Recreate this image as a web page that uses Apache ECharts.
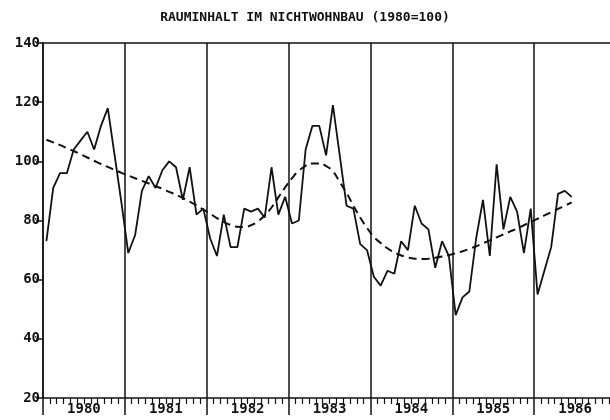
<!DOCTYPE html>
<html>
<head>
<meta charset="utf-8">
<script src="https://cdn.jsdelivr.net/npm/echarts@6/dist/echarts.min.js"></script>
<style>
html, body { margin: 0; padding: 0; background: #fff; }
#main { width: 610px; height: 420px; }
</style>
</head>
<body>
<div id="main"></div>
<script>
// Jahre (Achsenbeschriftung), erster Monat = Jan 1980
var years = ['1980', '1981', '1982', '1983', '1984', '1985', '1986'];

// Rauminhalt im Nichtwohnbau, Monatswerte Jan 1980 - Jun 1986 (1980=100)
var rauminhalt = [
  73, 91, 96, 96, 104, 107, 110, 104, 112, 118, 102, 86,   // 1980
  69, 75, 90, 95, 91, 97, 100, 98, 87, 98, 82, 84,         // 1981
  74, 68, 82, 71, 71, 84, 83, 84, 81, 98, 82, 88,          // 1982
  79, 80, 104, 112, 112, 102, 119, 102, 85, 84, 72, 70,    // 1983
  61, 58, 63, 62, 73, 70, 85, 79, 77, 64, 73, 68,          // 1984
  48, 54, 56, 74, 87, 68, 99, 77, 88, 83, 69, 84,          // 1985
  55, 63, 71, 89, 90, 88                                   // 1986
];

// Trendkurve (gestrichelt)
var trend = [
  107.3, 106.4, 105.5, 104.5, 103.5, 102.4, 101.3, 100.2, 99.1, 98.1, 97.1, 96.1,
  95.2, 94.3, 93.4, 92.5, 91.6, 90.7, 89.7, 88.7, 87.6, 86.4, 85.1, 83.7,
  82.3, 80.8, 79.5, 78.5, 77.9, 77.8, 78.4, 79.7, 81.7, 84.4, 87.8, 91.2,
  94.3, 96.8, 98.5, 99.3, 99.3, 98.4, 96.6, 93.0, 89.3, 85.0, 81.0, 77.5,
  74.5, 72.4, 70.6, 69.2, 68.2, 67.5, 67.1, 67.0, 67.1, 67.4, 67.8, 68.3,
  68.9, 69.6, 70.4, 71.3, 72.3, 73.3, 74.3, 75.3, 76.3, 77.3, 78.4, 79.5,
  80.6, 81.7, 82.8, 83.9, 85.0, 86.1
];

var FONT = '"DejaVu Sans Mono", monospace';

// Monatswerte in der Monatsmitte
function toPairs(arr) {
  return arr.map(function (v, i) { return [i + 0.5, v]; });
}

var chart = echarts.init(document.getElementById('main'), null, { renderer: 'canvas' });

var option = {
  backgroundColor: '#fff',
  animation: false,
  title: {
    text: 'RAUMINHALT IM NICHTWOHNBAU (1980=100)',
    left: 'center',
    top: 6,
    textStyle: { fontFamily: FONT, fontSize: 13, fontWeight: 'bold', color: '#111' }
  },
  // rechter Rand liegt ausserhalb des Bildes (Kurve laeuft bis zum Rand)
  grid: { left: 43, top: 43, width: 573, height: 355, containLabel: false, outerBoundsMode: 'none' },
  xAxis: [
    {
      // Monatsstriche + Jahreslinien
      type: 'value', min: 0, max: 84, interval: 12,
      axisLine: { show: true, lineStyle: { color: '#111', width: 1.5 } },
      axisTick: { show: true, inside: false, length: 17, lineStyle: { color: '#111', width: 1.5 } },
      minorTick: { show: true, splitNumber: 12, length: 6, lineStyle: { color: '#111', width: 1.2 } },
      axisLabel: { show: false },
      splitLine: { show: true, lineStyle: { color: '#111', width: 1.5 } }
    },
    {
      // Jahresbeschriftung in der Jahresmitte
      type: 'value', min: 0, max: 84, interval: 6, position: 'bottom',
      axisLine: { show: false }, axisTick: { show: false }, splitLine: { show: false },
      axisLabel: {
        show: true, margin: 4,
        fontFamily: FONT, fontSize: 14, fontWeight: 'bold', color: '#111',
        formatter: function (v) {
          if (v % 12 === 6) return years[(v - 6) / 12] || '';
          return '';
        }
      }
    },
    {
      // obere Rahmenlinie
      type: 'value', min: 0, max: 84, position: 'top',
      axisLine: { show: true, lineStyle: { color: '#111', width: 1.5 } },
      axisTick: { show: false }, axisLabel: { show: false }, splitLine: { show: false }
    }
  ],
  yAxis: {
    type: 'value', min: 20, max: 140, interval: 20,
    axisLine: { show: true, lineStyle: { color: '#111', width: 1.5 } },
    axisTick: { show: true, length: 7, lineStyle: { color: '#111', width: 1.5 } },
    axisLabel: { margin: 3, fontFamily: FONT, fontSize: 14, fontWeight: 'bold', color: '#111' },
    splitLine: { show: false }
  },
  series: [
    {
      name: 'Rauminhalt',
      type: 'line',
      xAxisIndex: 0,
      data: toPairs(rauminhalt),
      symbol: 'none',
      lineStyle: { color: '#111', width: 1.8 }
    },
    {
      name: 'Trend',
      type: 'line',
      xAxisIndex: 0,
      data: toPairs(trend),
      symbol: 'none',
      smooth: true,
      lineStyle: { color: '#111', width: 2, type: [8, 5] }
    }
  ]
};

chart.setOption(option);
</script>
</body>
</html>
